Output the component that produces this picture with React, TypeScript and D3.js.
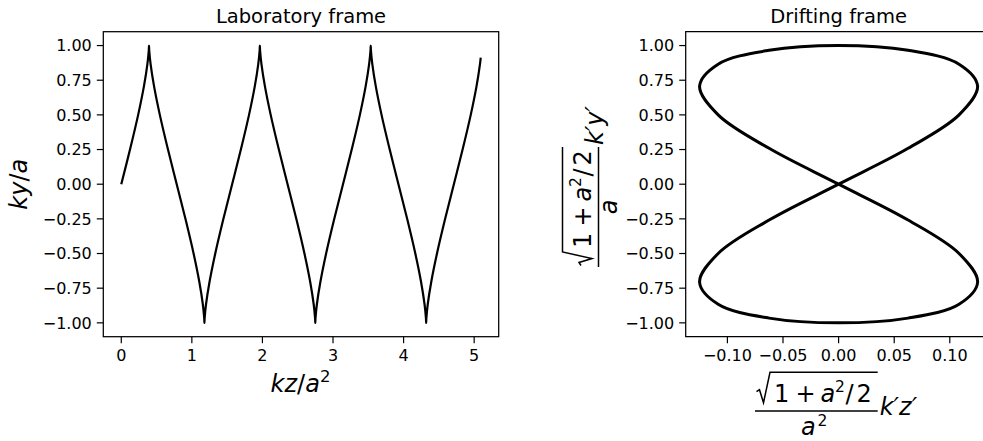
import React from "react";
import * as d3 from "d3";

// Laboratory frame: kz/a^2 (x) and ky/a (y)
const labZ = [
  0, 0.128, 0.2392, 0.3214, 0.3701, 0.3898, 0.3927, 0.3957, 0.4154, 0.4641, 0.5463, 0.6575,
  0.7854, 0.9134, 1.0246, 1.1068, 1.1555, 1.1752, 1.1781, 1.1811, 1.2008, 1.2495, 1.3317, 1.4429,
  1.5708, 1.6988, 1.81, 1.8922, 1.9409, 1.9606, 1.9635, 1.9665, 1.9862, 2.0349, 2.1171, 2.2283,
  2.3562, 2.4842, 2.5954, 2.6776, 2.7263, 2.746, 2.7489, 2.7519, 2.7716, 2.8203, 2.9025, 3.0137,
  3.1416, 3.2696, 3.3808, 3.463, 3.5117, 3.5314, 3.5343, 3.5373, 3.557, 3.6057, 3.6879, 3.7991,
  3.927, 4.055, 4.1662, 4.2484, 4.2971, 4.3168, 4.3197, 4.3227, 4.3424, 4.3911, 4.4733, 4.5845,
  4.7124, 4.8404, 4.9516, 5.0338, 5.0825, 5.093,
];
const labY = [
  0, 0.2588, 0.5, 0.7071, 0.866, 0.9659, 1, 0.9659, 0.866, 0.7071, 0.5, 0.2588,
  0, -0.2588, -0.5, -0.7071, -0.866, -0.9659, -1, -0.9659, -0.866, -0.7071, -0.5, -0.2588,
  0, 0.2588, 0.5, 0.7071, 0.866, 0.9659, 1, 0.9659, 0.866, 0.7071, 0.5, 0.2588,
  0, -0.2588, -0.5, -0.7071, -0.866, -0.9659, -1, -0.9659, -0.866, -0.7071, -0.5, -0.2588,
  0, 0.2588, 0.5, 0.7071, 0.866, 0.9659, 1, 0.9659, 0.866, 0.7071, 0.5, 0.2588,
  0, -0.2588, -0.5, -0.7071, -0.866, -0.9659, -1, -0.9659, -0.866, -0.7071, -0.5, -0.2588,
  0, 0.2588, 0.5, 0.7071, 0.866, 0.913,
];

// Drifting frame: figure-eight (closed loop)
const driftZ = [
  0, 0.0625, 0.1083, 0.125, 0.1083, 0.0625, 0, -0.0625, -0.1083, -0.125, -0.1083, -0.0625,
  0, 0.0625, 0.1083, 0.125, 0.1083, 0.0625, 0, -0.0625, -0.1083, -0.125, -0.1083, -0.0625,
];
const driftY = [
  0, 0.2588, 0.5, 0.7071, 0.866, 0.9659, 1, 0.9659, 0.866, 0.7071, 0.5, 0.2588,
  0, -0.2588, -0.5, -0.7071, -0.866, -0.9659, -1, -0.9659, -0.866, -0.7071, -0.5, -0.2588,
];

const leftXTicks = [0, 1, 2, 3, 4, 5];
const yTicks = [-1, -0.75, -0.5, -0.25, 0, 0.25, 0.5, 0.75, 1];
const rightXTicks = [-0.1, -0.05, 0, 0.05, 0.1];

const FONT = "DejaVu Sans, sans-serif";
const TICK_FS = 16;
const TICK_LEN = 6.5;

const top = 31.7;
const bottom = 336.7;

function FracLabel({ denomSup, prime, barLen, overY, numBase, denBase }: any) {
  const fs = 24;
  const sfs = 15.5;
  return (
    <g fontFamily={FONT} fill="#000">
      <path
        d={`M1.5,${numBase - 10} L4.5,${numBase - 12} L8.5,${numBase + 1} L15,${overY} H${barLen}`}
        fill="none"
        stroke="#000"
        strokeWidth={1.5}
        strokeLinejoin="miter"
      />
      <text x={19} y={numBase} fontSize={fs}>1</text>
      <text x={40.5} y={numBase} fontSize={fs}>+</text>
      <text x={65.5} y={numBase} fontSize={fs} fontStyle="italic">a</text>
      <text x={80} y={numBase - 10} fontSize={sfs}>2</text>
      <text x={90.5} y={numBase} fontSize={fs}>/</text>
      <text x={101.5} y={numBase} fontSize={fs}>2</text>
      <line x1={0} x2={barLen} y1={0} y2={0} stroke="#000" strokeWidth={1.5} />
      {denomSup ? (
        <g>
          <text x={46} y={denBase} fontSize={fs} fontStyle="italic">a</text>
          <text x={62.5} y={denBase - 9.5} fontSize={sfs}>2</text>
        </g>
      ) : (
        <text x={barLen / 2} y={denBase} fontSize={fs} fontStyle="italic" textAnchor="middle">a</text>
      )}
      <text x={barLen + 2} y={4} fontSize={fs} fontStyle="italic">{prime}</text>
    </g>
  );
}

export default function App() {
  const lx = d3.scaleLinear().domain([-0.2547, 5.3477]).range([103.3, 498.7]);
  const ly = d3.scaleLinear().domain([-1.1, 1.1]).range([bottom, top]);
  const rx = d3.scaleLinear().domain([-0.1375, 0.1375]).range([685.7, 991.5]);

  const labPts: [number, number][] = labZ.map((z, i) => [z, labY[i]]);
  const driftPts: [number, number][] = driftZ.map((z, i) => [z, driftY[i]]);

  const labLine = d3
    .line<[number, number]>()
    .x((d) => lx(d[0]))
    .y((d) => ly(d[1]))
    .curve(d3.curveCatmullRom.alpha(0.5));
  const driftLine = d3
    .line<[number, number]>()
    .x((d) => rx(d[0]))
    .y((d) => ly(d[1]))
    .curve(d3.curveCatmullRomClosed.alpha(0.5));

  const fmt2 = d3.format(".2f");
  const fmt0 = d3.format("d");

  const yAxis = (x0: number) => (
    <g fontFamily={FONT} fontSize={TICK_FS}>
      {yTicks.map((t) => (
        <g key={t}>
          <line x1={x0 - TICK_LEN} x2={x0} y1={ly(t)} y2={ly(t)} stroke="#000" strokeWidth={1.2} />
          <text x={x0 - TICK_LEN - 5} y={ly(t) + 5.7} textAnchor="end" fill="#000">
            {fmt2(t)}
          </text>
        </g>
      ))}
    </g>
  );

  const xAxis = (ticks: number[], sc: any, f: any) => (
    <g fontFamily={FONT} fontSize={TICK_FS}>
      {ticks.map((t) => (
        <g key={t}>
          <line x1={sc(t)} x2={sc(t)} y1={bottom} y2={bottom + TICK_LEN} stroke="#000" strokeWidth={1.2} />
          <text x={sc(t)} y={361} textAnchor="middle" fill="#000">
            {f(t)}
          </text>
        </g>
      ))}
    </g>
  );

  return (
    <svg
      width={983}
      height={441}
      style={{ position: "absolute", left: 0, top: 0, background: "#fff" }}
    >
      <rect x={0} y={0} width={983} height={441} fill="#fff" />

      {/* Left panel */}
      <path d={labLine(labPts) || ""} fill="none" stroke="#000" strokeWidth={2.2} strokeLinejoin="round" />
      <rect
        x={103.3}
        y={top}
        width={498.7 - 103.3}
        height={bottom - top}
        fill="none"
        stroke="#000"
        strokeWidth={1.25}
      />
      {yAxis(103.3)}
      {xAxis(leftXTicks, lx, fmt0)}
      <text x={301} y={22.5} textAnchor="middle" fontFamily={FONT} fontSize={19.5} fill="#000">
        Laboratory frame
      </text>
      <text x={300.5} y={391.5} textAnchor="middle" fontFamily={FONT} fontSize={24} fill="#000">
        <tspan fontStyle="italic">kz</tspan>
        <tspan>/</tspan>
        <tspan fontStyle="italic">a</tspan>
        <tspan fontSize={16.5} dy={-10}>2</tspan>
      </text>
      <text
        transform="translate(26.5,184.2) rotate(-90)"
        textAnchor="middle"
        fontFamily={FONT}
        fontSize={24}
        fill="#000"
      >
        <tspan fontStyle="italic">ky</tspan>
        <tspan>/</tspan>
        <tspan fontStyle="italic">a</tspan>
      </text>

      {/* Right panel */}
      <path d={driftLine(driftPts) || ""} fill="none" stroke="#000" strokeWidth={3} strokeLinejoin="round" />
      <path
        d={`M991.5,${top} H685.7 V${bottom} H991.5`}
        fill="none"
        stroke="#000"
        strokeWidth={1.25}
      />
      {yAxis(685.7)}
      {xAxis(rightXTicks, rx, fmt2)}
      <text x={838.6} y={22.5} textAnchor="middle" fontFamily={FONT} fontSize={19.5} fill="#000">
        Drifting frame
      </text>
      <g transform="translate(755,411)">
        <FracLabel denomSup={true} prime={"k\u2032z\u2032"} barLen={122.7} overY={-38.7} numBase={-9.3} denBase={24} />
      </g>
      <g transform="translate(598.5,267) rotate(-90)">
        <FracLabel denomSup={false} prime={"k\u2032y\u2032"} barLen={120} overY={-36} numBase={-7.5} denBase={18.5} />
      </g>
    </svg>
  );
}
